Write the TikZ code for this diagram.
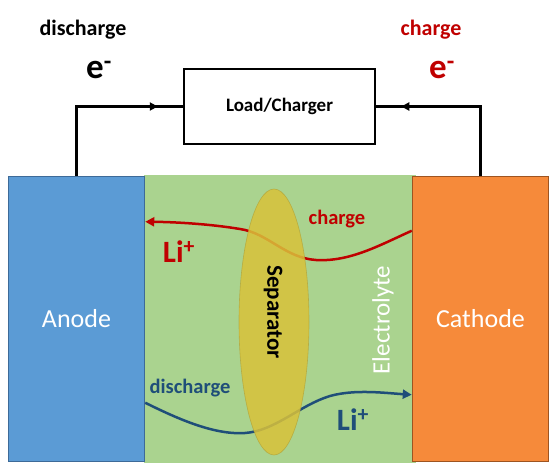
\documentclass[tikz,border=0pt]{standalone}
\usepackage{fontspec}
\setmainfont{Carlito}
\usetikzlibrary{arrows.meta, positioning, shapes.geometric, decorations.markings}
\definecolor{anodeCol}{HTML}{5B9BD5}
\definecolor{anodeEdge}{HTML}{3D6A98}
\definecolor{cathodeCol}{HTML}{F68A3A}
\definecolor{cathodeEdge}{HTML}{9E5420}
\definecolor{electrolyteCol}{HTML}{AAD38F}
\definecolor{separatorCol}{HTML}{D9C23A}
\definecolor{chargeCol}{HTML}{C00000}
\definecolor{dischargeCol}{HTML}{1F4E79}

\begin{document}
\begin{tikzpicture}[
    x=1pt, y=-1pt,
    >=Triangle,
    electrode/.style={minimum width=136pt, minimum height=285pt, inner sep=0pt, line width=1.5pt, text=white, font=\fontsize{26}{26}\selectfont},
    wire/.style={line width=2.5pt, postaction={decorate, decoration={markings, mark=at position -25pt with {\arrow{Triangle[length=8pt, width=8pt]}}}}},
    ionpath/.style={line width=2.5pt, -{Triangle[length=9pt, width=9pt]}},
    toplabel/.style={font=\bfseries\fontsize{22}{22}\selectfont},
    ionlabel/.style={font=\bfseries\fontsize{20.5}{20.5}\selectfont},
    bigE/.style={font=\bfseries\fontsize{35}{35}\selectfont},
    liion/.style={font=\bfseries\fontsize{31}{31}\selectfont}
]
\useasboundingbox (0,0) rectangle (555,471);

% --- 1. CELL ---
\node[fill=electrolyteCol, minimum width=272pt, minimum height=288pt, inner sep=0pt] (electrolyte) at (280,319) {};
\node[electrode, fill=anodeCol, draw=anodeEdge] (anode) at (76.5,319) {Anode};
\node[electrode, fill=cathodeCol, draw=cathodeEdge] (cathode) at (480.5,319) {Cathode};

% --- 2. EXTERNAL CIRCUIT ---
\node[draw, line width=2.5pt, minimum width=191pt, minimum height=75pt, font=\bfseries\fontsize{19}{19}\selectfont] (load) at (279.5,106.5) {Load/Charger};
\draw[wire] (anode.north) |- (load.west);
\draw[wire] (cathode.north) |- (load.east);

\node[toplabel] (dischargeTop) at (83,30) {discharge};
\node[bigE] (eLeft) at (99,70) {e\textsuperscript{-}};
\node[toplabel, chargeCol] (chargeTop) at (431,30) {charge};
\node[bigE, chargeCol] (eRight) at (442,70) {e\textsuperscript{-}};

% --- 3. ION PATHS ---
\draw[ionpath, chargeCol] ([yshift=-55pt]cathode.north west) .. controls (380,245) and (350,262) .. (316,260)
    .. controls (285,258) and (268,233) .. (240,229)
    .. controls (210,224) and (175,222) .. ([yshift=-46pt]anode.north east);
\draw[ionpath, dischargeCol] ([yshift=-227pt]anode.north east) .. controls (180,420) and (215,435) .. (245,433)
    .. controls (275,431) and (300,405) .. (330,396)
    .. controls (355,389) and (385,393) .. ([yshift=-219pt]cathode.north west);

% --- 4. SEPARATOR ---
\node[ellipse, fill=separatorCol, draw=separatorCol!80!black, line width=0.6pt, fill opacity=0.85, draw opacity=0.6,
    minimum width=70pt, minimum height=266pt, inner sep=0pt] (separator) at (274,322) {};
\node[rotate=-90, font=\bfseries\fontsize{23}{23}\selectfont] (sepLabel) at (273,312) {Separator};
\node[rotate=90, text=white, font=\fontsize{25}{25}\selectfont] (elecLabel) at (383,320) {Electrolyte};

\node[ionlabel, chargeCol] (chargeIon) at (337,219) {charge};
\node[liion, chargeCol] (liCharge) at (179,252) {Li\textsuperscript{+}};
\node[ionlabel, dischargeCol] (dischargeIon) at (190,388) {discharge};
\node[liion, dischargeCol] (liDischarge) at (353,420) {Li\textsuperscript{+}};

\end{tikzpicture}
\end{document}
